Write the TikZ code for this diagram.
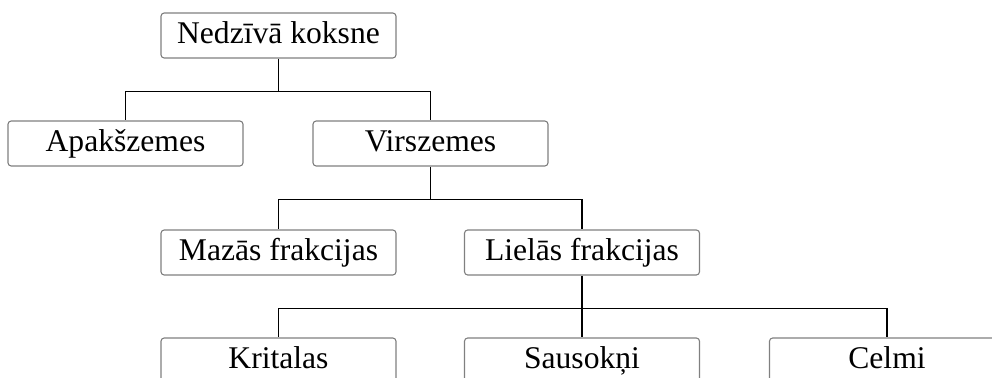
\documentclass[tikz,border=0pt]{standalone}
\usepackage{fontspec}
\setmainfont{Liberation Serif}
\usetikzlibrary{positioning}

\begin{document}
\begin{tikzpicture}[
    x=.5pt,
    y=-.5pt,
    box/.style={
      draw=black!50,
      line width=.55pt,
      rounded corners=1.6pt,
      minimum width=117.5pt,
      minimum height=22.5pt,
      inner sep=0,
      text height=.85em,
      text depth=0pt,
      font=\fontsize{15.8}{18}\selectfont,
    },
    link/.style={
      line width=.55pt,
      color=black,
    },
  ]
    \useasboundingbox (0,0) rectangle (992,378);
    \clip (0,0) rectangle (992,378);

    % levels
    \node[box] (root)   at (278.5, 35.5) {Nedzīvā koksne};
    \node[box] (apaks)  at (125.5,143.5) {Apakšzemes};
    \node[box] (virs)   at (430.5,143.5) {Virszemes};
    \node[box] (mazas)  at (278.5,252.5) {Mazās frakcijas};
    \node[box] (lielas) at (582,  252.5) {Lielās frakcijas};
    \node[box] (krit)   at (278.5,360.5) {Kritalas};
    \node[box] (sauso)  at (582,  360.5) {Sausokņi};
    \node[box] (celmi)  at (887,  360.5) {Celmi};

    \newcommand\branch[2]{%
      \draw[link] (#1.south) -- ++(0,33) coordinate (#1-j);
      \foreach \kid in {#2} \draw[link] (#1-j) -| (\kid.north);
    }

    \branch{root}{apaks,virs}
    \branch{virs}{mazas,lielas}
    \branch{lielas}{krit,sauso,celmi}
  \end{tikzpicture}
\end{document}
